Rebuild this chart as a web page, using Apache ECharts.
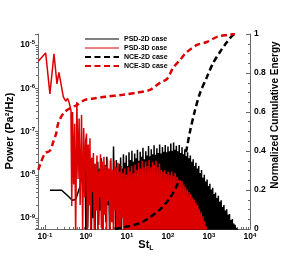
<!DOCTYPE html>
<html><head><meta charset="utf-8">
<script src="https://cdn.jsdelivr.net/npm/echarts@6/dist/echarts.min.js"></script>
<style>html,body{margin:0;padding:0;background:#fff}#c{width:287px;height:261px}</style>
</head><body><div id="c"></div>
<script>
// ---------- DATA ----------
const seriesNames = ['PSD-2D case', 'PSD-3D case', 'NCE-2D case', 'NCE-3D case'];

const st2D = [0.132, 0.255, 0.37, 0.463, 0.561, 0.714, 0.86, 0.946,
  1.0, 1.05, 1.1, 1.16, 1.22, 1.28, 1.35, 1.42, 1.5, 1.58,
  1.66, 1.75, 1.84, 1.94, 2.04, 2.15, 2.26, 2.38, 2.5, 2.63,
  2.77, 2.91, 3.06, 3.22, 3.39, 3.57, 3.76, 3.95, 4.16,
  4.3, 4.5, 4.7, 4.9, 5.1, 5.3, 5.5, 5.7, 5.9, 6.1,
  6.4, 6.7, 7.0, 7.3, 7.6, 7.9, 8.2, 8.5, 8.8, 9.2,
  9.6, 10, 10.4, 10.8, 11.2, 11.7, 12.2, 12.7, 13.2, 13.7,
  14.2, 14.8, 15.4, 16, 16.6, 17.3, 18, 18.7, 19.4, 20.2,
  21, 21.8, 22.7, 23.6, 24.5, 25.5, 26.5, 27.6, 28.7, 29.8,
  31, 32.2, 33.5, 34.8, 36.2, 37.6, 39.1, 40.7, 42.3, 44,
  45.8, 47.6, 49.5, 51.5, 53.5, 55.7, 57.9, 60.2, 62.6, 65.1,
  67.7, 70.4, 73.2, 76.2, 79.2, 82.4, 85.7, 89.1, 92.7, 96.4,
  100, 104, 108, 113, 117, 122, 127, 132, 137, 143,
  148, 154, 160, 167, 174, 181, 188, 195, 203, 211,
  220, 228, 237, 247, 257, 267, 278, 289, 300, 312,
  325, 338, 351, 365, 380, 395, 411, 427, 444, 462,
  480, 500, 520, 540, 562, 584, 608, 632, 657, 683,
  711, 739, 769, 800, 832, 865, 900, 936, 973, 1010,
  1050, 1090, 1140, 1180, 1230, 1280, 1330, 1390, 1440, 1500,
  1560, 1620, 1690, 1760, 1830, 1900, 1980, 2050, 2140, 2220,
  2310, 2400, 2500, 2600, 2700, 2810, 2920, 3040, 3160, 3290,
  3420, 3550, 3700, 3850, 4000, 4160, 4330, 4500, 4680, 4870,
  5060];
const psd2D = [4.4e-9, 4.4e-9, 3.2e-9, 2.6e-9, 2.7e-9, 5.4e-9, 1.3e-8, 2.2e-8,
  3e-10, 2e-8, 6e-10, 1.5e-8, 2e-9, 2.2e-8, 4e-10, 9e-9, 1e-9, 1.8e-8,
  5e-10, 1.2e-8, 2.5e-9, 2e-8, 7e-10, 1.4e-8, 1.5e-9, 2.4e-8, 4e-10, 1e-8,
  3e-9, 1.7e-8, 8e-10, 2.6e-8, 2e-9, 1.3e-8, 5e-10, 2.1e-8, 1.2e-9,
  1.2e-8, 9e-10, 4.5e-8, 2e-9, 1.5e-8, 4e-10, 2.2e-8, 1.5e-9, 1.1e-8, 3e-10,
  1.8e-8, 1e-9, 2.5e-8, 3e-10, 1.4e-8, 2e-9, 3e-8, 5e-10, 1.9e-8, 3e-10,
  2.8e-8, 8e-10, 1.6e-8, 3e-10, 3.3e-8, 1.2e-9, 2.2e-8, 3e-10, 3.6e-8, 6e-10,
  2e-8, 3e-10, 3.1e-8, 7e-10, 2.4e-8, 3e-10, 3.8e-8, 5e-10, 2.1e-8, 3e-10,
  3.4e-8, 4e-10, 2.6e-8, 3e-10, 4.2e-8, 5e-10, 2.3e-8, 3e-10, 3.5e-8, 4e-10,
  2.8e-8, 3e-10, 4.6e-8, 4e-10, 2.7e-8, 3e-10, 3.9e-8, 3e-10, 3e-8, 4e-10,
  4.8e-8, 3e-10, 2.9e-8, 3e-10, 4.1e-8, 4e-10, 3.2e-8, 3e-10, 5e-8, 3e-10,
  3.1e-8, 4e-10, 4.4e-8, 3e-10, 3.4e-8, 3e-10, 4.9e-8, 4e-10, 3.3e-8, 3e-10,
  4.5e-8, 3e-10, 3.5e-8, 3e-10, 5.3e-8, 4e-10, 3.6e-8, 3e-10, 5.6e-8, 3e-10,
  3.8e-8, 4e-10, 4.7e-8, 3e-10, 3.5e-8, 3e-10, 4.9e-8, 4e-10, 3.2e-8, 3e-10,
  4.3e-8, 3e-10, 3e-8, 3e-10, 3.9e-8, 4e-10, 2.7e-8, 3e-10, 3.3e-8, 3e-10,
  2.4e-8, 3e-10, 2.8e-8, 4e-10, 2e-8, 3e-10, 2.3e-8, 3e-10, 1.6e-8, 3e-10,
  1.9e-8, 3e-10, 1.4e-8, 3e-10, 1.6e-8, 3e-10, 1.1e-8, 3e-10, 1.3e-8, 3e-10,
  8.5e-9, 3e-10, 1e-8, 3e-10, 7e-9, 3e-10, 7.8e-9, 3e-10, 5.5e-9, 3e-10,
  6.2e-9, 3e-10, 4.6e-9, 3e-10, 5e-9, 3e-10, 3.6e-9, 3e-10, 3.9e-9, 3e-10,
  2.9e-9, 3e-10, 3.3e-9, 3e-10, 2.4e-9, 3e-10, 2.6e-9, 3e-10, 1.8e-9, 3e-10,
  2e-9, 3e-10, 1.5e-9, 3e-10, 1.6e-9, 3e-10, 1.2e-9, 3e-10, 1.25e-9, 3e-10,
  9e-10, 3e-10, 9.5e-10, 3e-10, 7.5e-10, 3e-10, 7e-10, 3e-10, 6e-10, 3e-10,
  5.5e-10];

const st3D = [0.0687, 0.104, 0.132, 0.166, 0.196, 0.219, 0.28, 0.32, 0.358, 0.385, 0.43,
  0.45, 0.47, 0.5, 0.53, 0.56, 0.6, 0.64, 0.68, 0.72, 0.78, 0.83, 0.88, 0.93, 0.98,
  1.03, 1.08, 1.13, 1.19, 1.25, 1.31, 1.38, 1.45, 1.52, 1.6,
  1.68, 1.76, 1.85, 1.95, 2.05, 2.15, 2.26, 2.37, 2.49, 2.61,
  2.74, 2.88, 3.02, 3.17, 3.33, 3.5, 3.67, 3.85, 4.05, 4.25,
  4.46, 4.68, 4.92, 5.16, 5.42, 5.69, 5.98, 6.28, 6.59, 6.92,
  7.27, 7.63, 8.01, 8.41, 8.83, 9.27, 9.74, 10.2, 10.7, 11.3,
  11.8, 12.4, 13.0, 13.7, 14.4, 15.1, 15.8, 16.6, 17.5, 18.3,
  19.2, 20.2, 21.2, 22.3, 23.4, 24.6, 25.8, 27.1, 28.4, 29.9,
  31.4, 32.9, 34.6, 36.3, 38.1, 40.0, 42.0, 44.1, 46.3, 48.6,
  51.1, 53.6, 56.3, 59.1, 62.1, 65.2, 68.4, 71.8, 75.4, 79.2,
  83.2, 87.3, 91.7, 96.3, 101, 106, 112, 117, 123, 129,
  136, 142, 149, 157, 165, 173, 181, 190, 200, 210,
  220, 231, 243, 255, 268, 281, 295, 310, 326, 342,
  359, 377, 396, 416, 436, 458, 481, 505, 530, 557,
  585, 614, 645, 677, 711, 746, 784, 823, 864, 907];
const psd3D = [4.2e-6, 6.5e-6, 7.4e-7, 6.2e-6, 1.26e-6, 2.3e-6, 6.3e-7, 5e-7, 5.8e-7, 4.8e-7, 3.1e-7,
  1.9e-9, 2.8e-7, 6e-9, 1.5e-7, 4e-10, 4.8e-7, 8e-9, 2e-7, 2e-9, 2.4e-7, 4e-10, 1.2e-7, 3e-9, 6e-8,
  9e-8, 3e-10, 5e-8, 2e-9, 7e-8, 5e-10, 2.5e-8, 4e-9, 3.2e-8, 3e-10,
  1.8e-8, 1.5e-9, 2.8e-8, 4e-10, 1.2e-8, 3e-9, 3e-8, 6e-10, 2e-8, 2e-10,
  2.6e-8, 1.2e-9, 1.6e-8, 3e-10, 2.3e-8, 2.5e-9, 1.4e-8, 4e-10, 2.4e-8, 8e-10,
  1.3e-8, 3e-10, 2.1e-8, 1.5e-9, 1.5e-8, 2e-10, 1.9e-8, 6e-10, 1.2e-8, 3e-10,
  1.6e-8, 1e-9, 1.1e-8, 2e-10, 1.4e-8, 4e-10, 1e-8, 2e-10, 1.5e-8, 5e-10,
  1.2e-8, 2e-10, 1.6e-8, 3e-10, 1.1e-8, 2e-10, 1.7e-8, 4e-10, 1.3e-8, 2e-10,
  1.9e-8, 3e-10, 1.4e-8, 2e-10, 2.1e-8, 4e-10, 1.5e-8, 2e-10, 2e-8, 3e-10,
  1.6e-8, 2e-10, 2.2e-8, 3e-10, 1.5e-8, 2e-10, 2e-8, 3e-10, 1.7e-8, 2e-10,
  2.1e-8, 3e-10, 1.5e-8, 2e-10, 1.8e-8, 3e-10, 1.3e-8, 2e-10, 1.2e-8, 3e-10,
  1.3e-8, 2e-10, 1.05e-8, 3e-10, 1.2e-8, 2e-10, 1e-8, 3e-10, 1.2e-8, 2e-10,
  9.5e-9, 3e-10, 1.1e-8, 2e-10, 9e-9, 3e-10, 8.5e-9, 2e-10, 7.5e-9, 3e-10,
  7e-9, 2e-10, 6e-9, 3e-10, 5.2e-9, 2e-10, 4.6e-9, 3e-10, 4e-9, 2e-10,
  3.6e-9, 3e-10, 3e-9, 2e-10, 2.7e-9, 3e-10, 2.3e-9, 2e-10, 2e-9, 3e-10,
  1.6e-9, 2e-10, 1.35e-9, 3e-10, 1.1e-9, 2e-10, 8.5e-10, 3e-10, 6.5e-10, 2e-10];

const nceSt2D = [5.1, 8.9, 20.7, 36.4, 63.8, 112, 175, 232, 291, 344, 457, 603, 891, 1253, 1854, 2754, 3846, 4820];
const nce2D = [0, 0.01, 0.03, 0.06, 0.1, 0.16, 0.235, 0.32, 0.42, 0.5, 0.61, 0.697, 0.779, 0.85, 0.908, 0.959, 0.995, 1.0];

const nceSt3D = [0.0687, 0.0755, 0.1, 0.132, 0.16, 0.19, 0.21, 0.28, 0.37, 0.6, 0.95, 1.65, 2.9, 8, 18, 36, 63, 95, 133, 196, 290, 510, 890, 1570, 2760, 4290];
const nce3D = [0.303, 0.328, 0.388, 0.402, 0.448, 0.494, 0.542, 0.593, 0.614, 0.636, 0.662, 0.670, 0.678, 0.688, 0.700, 0.713, 0.749, 0.770, 0.826, 0.867, 0.908, 0.944, 0.959, 0.985, 0.995, 1.0];

const rightTicks = ['0', '0.2', '0.4', '0.6', '0.8', '1'];

// ---------- CHART ----------
const zip = (a, b) => a.map((v, i) => [v, b[i]]);
const FONT = 'Liberation Sans, Arial, sans-serif';
const AX = '#6a6a6a';
function powLabel(v) {
  const e = Math.log10(v), r = Math.round(e);
  if (Math.abs(e - r) > 1e-6) return '';
  return '{b|10}{s|' + r + '}';
}
const richPow = {
  b: { fontSize: 8.5, fontWeight: 'bold', fontFamily: FONT, color: '#000', lineHeight: 10 },
  s: { fontSize: 6, fontWeight: 'bold', fontFamily: FONT, color: '#000', lineHeight: 6, verticalAlign: 'top' }
};

const chart = echarts.init(document.getElementById('c'), null, { renderer: 'canvas' });
chart.setOption({
  animation: false,
  backgroundColor: '#fff',
  grid: { left: 38, right: 37, top: 34, bottom: 32 },
  legend: {
    orient: 'vertical', left: 84, top: 35, padding: 0, itemWidth: 34, itemHeight: 8, itemGap: 1,
    data: [
      { name: seriesNames[0], lineStyle: { width: 1 } },
      { name: seriesNames[1], lineStyle: { width: 1 } },
      { name: seriesNames[2] },
      { name: seriesNames[3] }
    ],
    itemStyle: { opacity: 0 },
    textStyle: { fontSize: 7, fontWeight: 'bold', fontFamily: FONT, color: '#000', lineHeight: 8 }
  },
  xAxis: {
    type: 'log', logBase: 10, min: 0.0676, max: 10000,
    axisLine: { lineStyle: { color: AX, width: 1 } },
    axisTick: { inside: true, length: 4, lineStyle: { color: AX } },
    minorTick: { show: true, splitNumber: 9, length: 2, lineStyle: { color: AX } },
    splitLine: { show: false },
    axisLabel: { margin: 3, formatter: powLabel, rich: richPow, showMinLabel: true, showMaxLabel: true }
  },
  yAxis: [{
    type: 'log', logBase: 10, min: 5.62e-10, max: 1.778e-5, position: 'left',
    axisLine: { show: true, lineStyle: { color: AX, width: 1 } },
    axisTick: { show: true, inside: false, length: 3, lineStyle: { color: AX } },
    minorTick: { show: true, splitNumber: 9, length: 2, lineStyle: { color: AX } },
    splitLine: { show: false },
    axisLabel: { margin: 3, formatter: powLabel, rich: richPow }
  }, {
    type: 'value', min: 0, max: 1, interval: 0.2, position: 'right',
    axisLine: { show: true, lineStyle: { color: AX, width: 1 } },
    axisTick: { show: true, inside: true, length: 4, lineStyle: { color: AX } },
    minorTick: { show: true, splitNumber: 4, length: 2, lineStyle: { color: AX } },
    splitLine: { show: false },
    axisLabel: {
      margin: 4, fontSize: 8.5, fontWeight: 'bold', fontFamily: FONT, color: '#000',
      formatter: (v) => rightTicks[Math.round(v * 5)]
    }
  }],
  graphic: [
    { type: 'text', x: 10, y: 131, rotation: Math.PI / 2,
      style: { text: 'Power (Pa²/Hz)', font: 'bold 11px ' + FONT, fill: '#000', textAlign: 'center', textVerticalAlign: 'middle' } },
    { type: 'text', x: 275, y: 115, rotation: Math.PI / 2,
      style: { text: 'Normalized Cumulative Energy', font: 'bold 10px ' + FONT, fill: '#000', textAlign: 'center', textVerticalAlign: 'middle' } },
    { type: 'text', x: 146, y: 245,
      style: { text: '{a|St}{b|L}', textAlign: 'center', textVerticalAlign: 'middle',
        rich: { a: { fontSize: 11, fontWeight: 'bold', fontFamily: FONT, fill: '#000', lineHeight: 14 },
                b: { fontSize: 7, fontWeight: 'bold', fontFamily: FONT, fill: '#000', lineHeight: 7, verticalAlign: 'bottom' } } } }
  ],
  series: [
    { name: seriesNames[0], type: 'line', xAxisIndex: 0, yAxisIndex: 0, showSymbol: false, symbol: 'none',
      data: zip(st2D, psd2D), lineStyle: { color: '#000', width: 1.5 }, itemStyle: { color: '#000' }, z: 2 },
    { name: seriesNames[1], type: 'line', xAxisIndex: 0, yAxisIndex: 0, showSymbol: false, symbol: 'none',
      data: zip(st3D, psd3D), lineStyle: { color: '#dd0000', width: 1.5 }, itemStyle: { color: '#dd0000' }, z: 3 },
    { name: seriesNames[2], type: 'line', xAxisIndex: 0, yAxisIndex: 1, showSymbol: false, symbol: 'none',
      smooth: 0.3, data: zip(nceSt2D, nce2D),
      lineStyle: { color: '#000', width: 2.5, type: [6, 3.5] }, itemStyle: { color: '#000' }, z: 4 },
    { name: seriesNames[3], type: 'line', xAxisIndex: 0, yAxisIndex: 1, showSymbol: false, symbol: 'none',
      smooth: 0.3, data: zip(nceSt3D, nce3D),
      lineStyle: { color: '#dd0000', width: 2.5, type: [6, 3.5] }, itemStyle: { color: '#dd0000' }, z: 5 }
  ]
});
</script></body></html>
